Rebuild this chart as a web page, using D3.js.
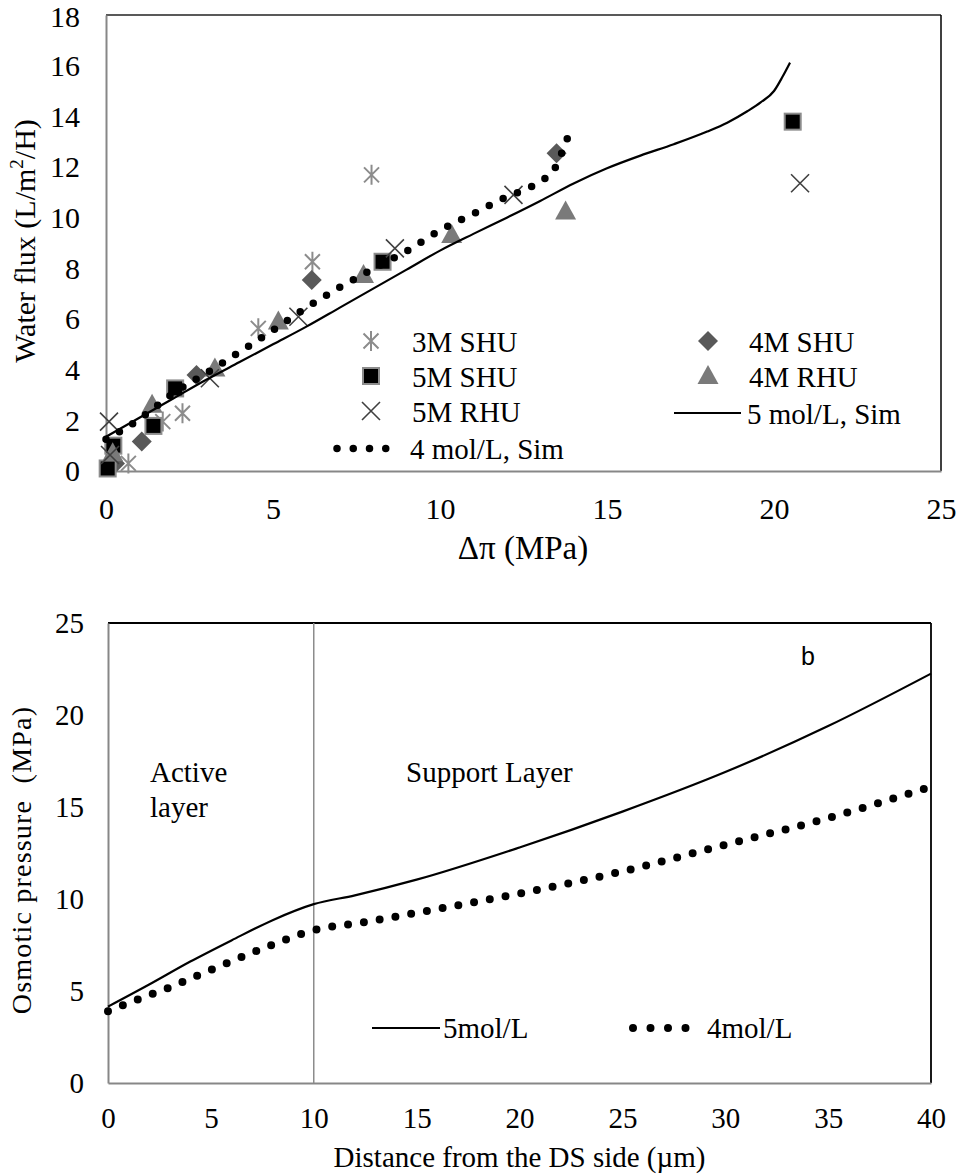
<!DOCTYPE html>
<html><head><meta charset="utf-8">
<script src="https://cdn.jsdelivr.net/npm/d3@7"></script>
<style>
body{margin:0;background:#fff}
svg{display:block}
text{font-family:"Liberation Serif","Times New Roman",serif;fill:#000}
</style>
</head><body>
<svg id="c" width="958" height="1176"></svg>
<script>
// ---------- Chart a data ----------
const aXTicks = [0, 5, 10, 15, 20, 25];
const aYTicks = [0, 2, 4, 6, 8, 10, 12, 14, 16, 18];

const s3MSHU_x = [0.67, 1.7, 2.29, 4.56, 6.18, 7.95];
const s3MSHU_y = [0.3, 1.95, 2.28, 5.63, 8.26, 11.69];

const s4MSHU_x = [0.27, 1.07, 2.71, 6.16, 13.49];
const s4MSHU_y = [0.3, 1.16, 3.79, 7.54, 12.54];

const s5MSHU_x = [0.05, 0.22, 1.42, 2.07, 8.28, 20.56];
const s5MSHU_y = [0.1, 1.0, 1.78, 3.26, 8.26, 13.79];

const s4MRHU_x = [0.2, 1.38, 3.26, 5.16, 7.71, 10.35, 13.76];
const s4MRHU_y = [0.7, 2.62, 4.05, 5.9, 7.74, 9.32, 10.24];

const s5MRHU_x = [0.09, 0.12, 3.11, 5.76, 8.65, 12.2, 20.78];
const s5MRHU_y = [1.95, 0.63, 3.66, 6.09, 8.79, 10.9, 11.36];

const sim5_x = [0, 1, 2, 3, 4, 5, 6, 7, 8, 9, 10, 11, 12, 13, 14, 15, 16, 17, 18, 18.6, 19.2, 19.6, 20.0, 20.25, 20.48];
const sim5_y = [1.35, 2.1, 2.85, 3.6, 4.3, 5.0, 5.7, 6.45, 7.2, 7.95, 8.7, 9.36, 10.0, 10.66, 11.35, 11.95, 12.45, 12.9, 13.4, 13.75, 14.2, 14.55, 15.0, 15.55, 16.12];

const sim4_x = [0, 0.57, 1.0, 1.5, 2.0, 3.0, 4.0, 5.0, 6.0, 7.0, 8.0, 9.0, 10.0, 11.0, 12.0, 12.7, 13.1, 13.44, 13.64, 13.82];
const sim4_y = [1.25, 1.68, 2.05, 2.55, 3.05, 3.86, 4.7, 5.56, 6.45, 7.25, 7.98, 8.68, 9.5, 10.15, 10.82, 11.2, 11.5, 11.95, 12.54, 13.15];

// ---------- Chart b data ----------
const bXTicks = [0, 5, 10, 15, 20, 25, 30, 35, 40];
const bYTicks = [0, 5, 10, 15, 20, 25];

const b5_x = [0, 2, 4, 6, 8, 10, 12, 15, 20, 25, 30, 35, 40];
const b5_y = [4.15, 5.35, 6.6, 7.75, 8.85, 9.72, 10.2, 11.05, 12.8, 14.75, 16.9, 19.4, 22.25];

const b4_x = [0, 1, 3, 5, 7.5, 10, 12.5, 15, 20, 25, 30, 35, 40];
const b4_y = [3.9, 4.35, 5.2, 6.15, 7.3, 8.3, 8.75, 9.25, 10.3, 11.5, 12.95, 14.4, 16.1];

const svg = d3.select("#c");
const zip = (xs, ys) => xs.map((x, i) => [x, ys[i]]);

// ---------- marker drawers ----------
function asterisk(g, cx, cy) {
  const r = 10, d = 7.5;
  g.append("path")
    .attr("d", `M${cx},${cy - r}L${cx},${cy + r}M${cx - d},${cy - d}L${cx + d},${cy + d}M${cx - d},${cy + d}L${cx + d},${cy - d}`)
    .attr("stroke", "#8c8c8c").attr("stroke-width", 2).attr("fill", "none");
}
function diamond(g, cx, cy) {
  const r = 10;
  g.append("path").attr("d", `M${cx},${cy - r}L${cx + r},${cy}L${cx},${cy + r}L${cx - r},${cy}Z`)
    .attr("fill", "#595959");
}
function square(g, cx, cy) {
  g.append("rect").attr("x", cx - 8).attr("y", cy - 8).attr("width", 16).attr("height", 16)
    .attr("fill", "#000").attr("stroke", "#8c8c8c").attr("stroke-width", 2);
}
function triangle(g, cx, cy) {
  g.append("path").attr("d", `M${cx},${cy - 11}L${cx + 10.5},${cy + 8}L${cx - 10.5},${cy + 8}Z`)
    .attr("fill", "#7a7a7a");
}
function xmark(g, cx, cy) {
  const r = 9;
  g.append("path").attr("d", `M${cx - r},${cy - r}L${cx + r},${cy + r}M${cx - r},${cy + r}L${cx + r},${cy - r}`)
    .attr("stroke", "#404040").attr("stroke-width", 1.6).attr("fill", "none");
}

// ================= Chart a =================
{
  const L = 106, R = 941, T = 15, B = 471;
  const x = d3.scaleLinear().domain([0, 25]).range([L, R]);
  const y = d3.scaleLinear().domain([0, 18]).range([B, T]);
  const g = svg.append("g");

  g.append("line").attr("x1", L).attr("x2", R).attr("y1", T).attr("y2", T).attr("stroke", "#222").attr("stroke-width", 1.5);
  g.append("line").attr("x1", R).attr("x2", R).attr("y1", T).attr("y2", B).attr("stroke", "#000").attr("stroke-width", 1.5);

  const xAxis = d3.axisBottom(x).tickValues(aXTicks).tickSize(0).tickPadding(0);
  const yAxis = d3.axisLeft(y).tickValues(aYTicks).tickSize(0).tickPadding(0);
  const gx = g.append("g").attr("transform", `translate(0,${B})`).call(xAxis);
  const gy = g.append("g").attr("transform", `translate(${L},0)`).call(yAxis);
  [gx, gy].forEach(a => {
    a.select(".domain").attr("stroke", "#878787").attr("stroke-width", 2);
    a.selectAll("text").attr("font-size", 30).attr("fill", "#000");
  });
  gx.selectAll("text").attr("dy", 0).attr("y", 48);
  gy.selectAll("text").attr("dy", "0.33em").attr("x", -26);
  gy.selectAll(".tick").filter(d => d === 18).select("text").attr("dy", "0.38em");

  const ser = [
    [s3MSHU_x, s3MSHU_y, asterisk],
    [s4MSHU_x, s4MSHU_y, diamond],
    [s5MSHU_x, s5MSHU_y, square],
    [s4MRHU_x, s4MRHU_y, triangle],
    [s5MRHU_x, s5MRHU_y, xmark]
  ];
  ser.forEach(([xs, ys, f]) => zip(xs, ys).forEach(([a, b]) => f(g, x(a), y(b))));

  const line = d3.line().x(d => x(d[0])).y(d => y(d[1])).curve(d3.curveMonotoneX);
  g.append("path").attr("d", line(zip(sim5_x, sim5_y))).attr("fill", "none").attr("stroke", "#000").attr("stroke-width", 2.2);
  g.append("path").attr("d", line(zip(sim4_x, sim4_y))).attr("fill", "none").attr("stroke", "#000")
    .attr("stroke-width", 7.5).attr("stroke-linecap", "round").attr("stroke-dasharray", "0 15.5");

  // legend
  const lg = g.append("g");
  const rowsL = [["3M SHU", asterisk], ["5M SHU", square], ["5M RHU", xmark]];
  rowsL.forEach(([t, f], i) => {
    const cy = 341 + i * 35;
    f(lg, 371, cy);
    lg.append("text").attr("x", 412).attr("y", cy + 11).attr("font-size", 29).text(t);
  });
  lg.append("path").attr("d", `M337,448.5L402,448.5`).attr("stroke", "#000").attr("stroke-width", 7.5)
    .attr("stroke-linecap", "round").attr("stroke-dasharray", "0 16.25");
  lg.append("text").attr("x", 410).attr("y", 459).attr("font-size", 29).text("4 mol/L, Sim");

  const rowsR = [["4M SHU", diamond], ["4M RHU", triangle]];
  rowsR.forEach(([t, f], i) => {
    const cy = 341 + i * 35;
    f(lg, 708, cy);
    lg.append("text").attr("x", 749).attr("y", cy + 11).attr("font-size", 29).text(t);
  });
  lg.append("line").attr("x1", 674).attr("x2", 741).attr("y1", 413).attr("y2", 413).attr("stroke", "#000").attr("stroke-width", 2.2);
  lg.append("text").attr("x", 747).attr("y", 424).attr("font-size", 29).text("5 mol/L, Sim");

  // titles
  g.append("text").attr("x", 523).attr("y", 559).attr("text-anchor", "middle").attr("font-size", 33).text("Δπ (MPa)");
  const yt = g.append("text").attr("transform", `translate(35,241) rotate(-90)`).attr("text-anchor", "middle").attr("font-size", 30);
  yt.append("tspan").text("Water flux (L/m");
  yt.append("tspan").attr("font-size", 19).attr("dy", -12).text("2");
  yt.append("tspan").attr("dy", 12).text("/H)");
}

// ================= Chart b =================
{
  const L = 108, R = 931, T = 623, B = 1083;
  const x = d3.scaleLinear().domain([0, 40]).range([L, R]);
  const y = d3.scaleLinear().domain([0, 25]).range([B, T]);
  const g = svg.append("g");

  g.append("line").attr("x1", L).attr("x2", R).attr("y1", T).attr("y2", T).attr("stroke", "#000").attr("stroke-width", 1.8);
  g.append("line").attr("x1", R).attr("x2", R).attr("y1", T).attr("y2", B).attr("stroke", "#000").attr("stroke-width", 1.8);

  const xAxis = d3.axisBottom(x).tickValues(bXTicks).tickSize(0).tickPadding(0);
  const yAxis = d3.axisLeft(y).tickValues(bYTicks).tickSize(0).tickPadding(0);
  const gx = g.append("g").attr("transform", `translate(0,${B})`).call(xAxis);
  const gy = g.append("g").attr("transform", `translate(${L},0)`).call(yAxis);
  [gx, gy].forEach(a => {
    a.select(".domain").attr("stroke", "#878787").attr("stroke-width", 2);
    a.selectAll("text").attr("font-size", 29).attr("fill", "#000");
  });
  gx.selectAll("text").attr("dy", 0).attr("y", 45);
  gy.selectAll("text").attr("dy", "0.33em").attr("x", -24);

  g.append("line").attr("x1", x(10)).attr("x2", x(10)).attr("y1", T).attr("y2", B).attr("stroke", "#8c8c8c").attr("stroke-width", 1.5);

  const line = d3.line().x(d => x(d[0])).y(d => y(d[1])).curve(d3.curveMonotoneX);
  g.append("path").attr("d", line(zip(b5_x, b5_y))).attr("fill", "none").attr("stroke", "#000").attr("stroke-width", 2.2);
  g.append("path").attr("d", line(zip(b4_x, b4_y))).attr("fill", "none").attr("stroke", "#000")
    .attr("stroke-width", 8).attr("stroke-linecap", "round").attr("stroke-dasharray", "0 16");

  g.append("text").attr("x", 150).attr("y", 782).attr("font-size", 29).text("Active");
  g.append("text").attr("x", 150).attr("y", 817).attr("font-size", 29).text("layer");
  g.append("text").attr("x", 406).attr("y", 782).attr("font-size", 29).text("Support Layer");
  g.append("text").attr("x", 801).attr("y", 665).attr("font-size", 25)
    .style("font-family", "'Liberation Sans', Arial, sans-serif").text("b");

  g.append("line").attr("x1", 372).attr("x2", 440).attr("y1", 1028).attr("y2", 1028).attr("stroke", "#000").attr("stroke-width", 2.2);
  g.append("text").attr("x", 443).attr("y", 1038).attr("font-size", 29).text("5mol/L");
  g.append("path").attr("d", "M633,1028L703,1028").attr("stroke", "#000").attr("stroke-width", 8)
    .attr("stroke-linecap", "round").attr("stroke-dasharray", "0 17.5");
  g.append("text").attr("x", 707).attr("y", 1038).attr("font-size", 29).text("4mol/L");

  g.append("text").attr("x", (L + R) / 2).attr("y", 1167).attr("text-anchor", "middle").attr("font-size", 29).text("Distance from the DS side (µm)");
  g.append("text").attr("transform", `translate(31,860) rotate(-90)`).attr("text-anchor", "middle")
    .attr("font-size", 28).attr("letter-spacing", 1.2).text("Osmotic pressure  (MPa)").style("white-space", "pre");
}
</script>
</body></html>
